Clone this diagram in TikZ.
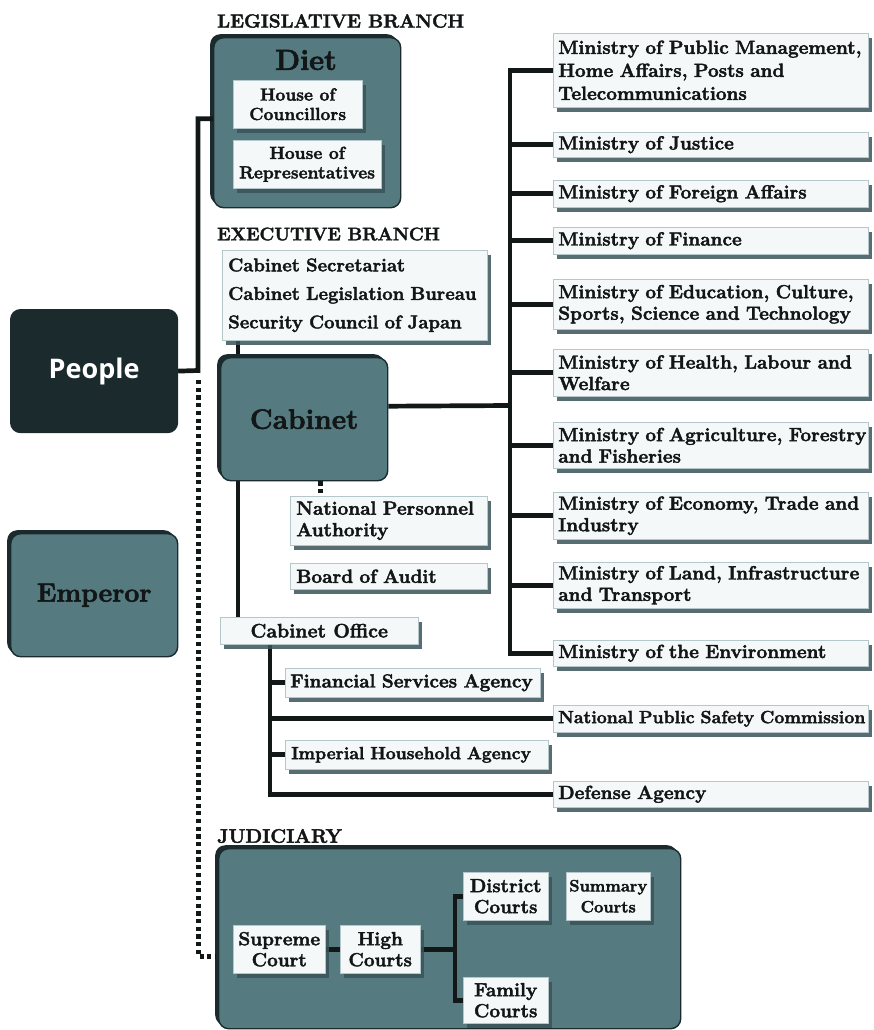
\documentclass[tikz,border=0pt]{standalone}
\usepackage{fontspec}
\setmainfont{Latin Modern Roman}[BoldFeatures={FakeBold=2.2}]
\newfontfamily\peoplefont{Open Sans}
\usetikzlibrary{shadows}

\definecolor{tealc}{HTML}{557B81}
\definecolor{tealdk}{HTML}{1B2A2D}
\definecolor{peoplec}{HTML}{1B2A2D}
\definecolor{boxfill}{HTML}{F4F8F9}
\definecolor{boxedge}{HTML}{B5C7CB}
\definecolor{shadowc}{HTML}{3B5458}
\definecolor{linec}{HTML}{121718}
\definecolor{inkc}{HTML}{121617}

\pgfdeclarelayer{frames}
\pgfdeclarelayer{links}
\pgfsetlayers{frames,links,main}

\begin{document}
\begin{tikzpicture}[x=1pt, y=-1pt,
  head/.style={font=\fontsize{19}{21}\selectfont\bfseries, text=inkc, anchor=west, inner sep=0pt},
  wbox/.style={draw=boxedge, line width=0.5pt, fill=boxfill, anchor=north west,
    inner xsep=6pt, inner ysep=1pt, text=inkc,
    font=\fontsize{19}{23}\selectfont\bfseries,
    drop shadow={shadow xshift=4pt, shadow yshift=-5pt, fill=shadowc, opacity=0.85}},
  lbox/.style={wbox, align=left},
  cbox/.style={wbox, align=center},
  mbox/.style={lbox, inner xsep=5pt, minimum width=315pt, text width=305pt},
  twoline/.style={font=\fontsize{19}{21.5}\selectfont\bfseries},
  court/.style={cbox, inner xsep=2pt, font=\fontsize{19}{21}\selectfont\bfseries},
  tbox/.style={fill=tealc, draw=tealdk, line width=1.4pt, rounded corners=10pt, anchor=north west,
    drop shadow={shadow xshift=-3.5pt, shadow yshift=3.5pt, fill=tealdk, opacity=1}},
  title/.style={font=\fontsize{28}{30}\selectfont\bfseries, text=inkc},
  conn/.style={draw=linec, line width=4.7pt},
  dotc/.style={draw=linec, line width=5pt, dash pattern=on 4.2pt off 3.5pt},
]
\useasboundingbox (0,0) rectangle (874,1030);

% ---------- big rounded frames ----------
\begin{pgfonlayer}{frames}
  \node[tbox, minimum width=187pt, minimum height=170pt] (diet) at (213,37) {};
  \node[tbox, minimum width=462pt, minimum height=180pt] (judi) at (218,848) {};
\end{pgfonlayer}

% ---------- legislative branch ----------
\node[head] (hleg) at (217,21) {LEGISLATIVE BRANCH};
\node[title, font=\fontsize{29}{30}\selectfont\bfseries] (dietname) at (306,60) {Diet};
\node[cbox, minimum width=129pt, minimum height=48pt, font=\fontsize{17.5}{19.5}\selectfont\bfseries] (hoc) at (233,80) {House of\\Councillors};
\node[cbox, minimum width=147pt, minimum height=48pt, font=\fontsize{17.5}{19.5}\selectfont\bfseries] (hor) at (233,140) {House of\\Representatives};

% ---------- people and emperor ----------
\node[fill=peoplec, draw=tealdk, line width=1.2pt, rounded corners=10pt, anchor=north west,
      minimum width=167pt, minimum height=123pt, text=white,
      font=\fontsize{27}{28}\selectfont\peoplefont\bfseries] (people) at (10,309) {People};
\node[tbox, title, font=\fontsize{26.5}{30}\selectfont\bfseries, minimum width=167pt, minimum height=123pt] (emperor) at (10,533) {Emperor};

% ---------- executive branch ----------
\node[head, font=\fontsize{18.2}{20}\selectfont\bfseries] (hexe) at (217,234) {EXECUTIVE BRANCH};
\node[lbox, minimum width=265pt, minimum height=90pt, text width=253pt,
      font=\fontsize{18.5}{28.5}\selectfont\bfseries] (exec) at (222,250)
  {Cabinet Secretariat\\Cabinet Legislation Bureau\\Security Council of Japan};
\node[tbox, title, minimum width=167pt, minimum height=123pt] (cabinet) at (220,357) {Cabinet};
\node[lbox, twoline, minimum width=197pt, minimum height=49pt, text width=185pt] (npa) at (290,496) {National Personnel\\Authority};
\node[lbox, minimum width=197pt, minimum height=26pt, text width=185pt] (audit) at (290,563) {Board of Audit};
\node[cbox, font=\fontsize{19.5}{23}\selectfont\bfseries, minimum width=198pt, minimum height=27pt] (coffice) at (220,617) {Cabinet Office};
\node[lbox, inner xsep=5pt, minimum width=255pt, minimum height=29pt, text width=245pt] (fsa) at (285,668) {\mbox{Financial Services Agency}};
\node[lbox, minimum width=263pt, minimum height=29pt, text width=251pt,
      font=\fontsize{17.6}{20}\selectfont\bfseries] (iha) at (285,740) {Imperial Household Agency};

% ---------- ministries ----------
\node[mbox, minimum height=74pt] (m1) at (553,33) {\mbox{Ministry of Public Management,}\\Home Affairs, Posts and\\Telecommunications};
\node[mbox, minimum height=25pt] (m2) at (553,132) {Ministry of Justice};
\node[mbox, minimum height=27pt] (m3) at (553,180) {Ministry of Foreign Affairs};
\node[mbox, minimum height=27pt] (m4) at (553,227) {Ministry of Finance};
\node[mbox, twoline, minimum height=50pt] (m5) at (553,279) {\mbox{Ministry of Education, Culture,}\\\mbox{Sports, Science and Technology}};
\node[mbox, twoline, minimum height=47pt] (m6) at (553,349) {Ministry of Health, Labour and\\Welfare};
\node[mbox, twoline, minimum height=46pt] (m7) at (553,422) {\mbox{Ministry of Agriculture, Forestry}\\and Fisheries};
\node[mbox, twoline, minimum height=47pt] (m8) at (553,492) {\mbox{Ministry of Economy, Trade and}\\Industry};
\node[mbox, twoline, minimum height=46pt] (m9) at (553,562) {\mbox{Ministry of Land, Infrastructure}\\and Transport};
\node[mbox, minimum height=26pt] (m10) at (553,640) {Ministry of the Environment};
\node[mbox, minimum height=27pt, font=\fontsize{17.7}{20}\selectfont\bfseries] (npsc) at (553,705) {\mbox{National Public Safety Commission}};
\node[mbox, minimum height=26pt] (defense) at (553,781) {Defense Agency};

% ---------- judiciary ----------
\node[head, font=\fontsize{19.5}{21}\selectfont\bfseries] (hjud) at (217,836) {JUDICIARY};
\node[court, minimum width=92pt, minimum height=48pt] (sup) at (233,925) {Supreme\\Court};
\node[court, minimum width=80pt, minimum height=48pt] (high) at (340,925) {High\\Courts};
\node[court, minimum width=85pt, minimum height=48pt] (dist) at (463,872) {District\\Courts};
\node[court, minimum width=84pt, minimum height=48pt, font=\fontsize{16.5}{21}\selectfont\bfseries] (summ) at (566,872) {Summary\\Courts};
\node[court, minimum width=85pt, minimum height=46pt] (fam) at (463,977) {Family\\Courts};

% ---------- junction points ----------
\coordinate (pj) at (198,370.5);
\coordinate (dotstart) at (198,380);
\coordinate (dotend) at (216,956);
\coordinate (cabx) at (238,0);
\coordinate (npx) at (320,0);
\coordinate (trunk) at (510,0);
\coordinate (cabj) at (510,405.5);
\coordinate (cox) at (270,0);
\coordinate (bk) at (455,0);

% ---------- connectors ----------
\begin{pgfonlayer}{links}
  \draw[conn] (people.east) -- (pj) |- ([yshift=4pt]diet.west);
  \draw[dotc] (dotstart) |- (dotend);

  \draw[conn] (exec.south -| cabx) -- (cabinet.north -| cabx);
  \draw[conn] (cabinet.south -| cabx) -- (coffice.north -| cabx);
  \draw[dotc] (cabinet.south -| npx) -- (npa.north -| npx);

  \draw[conn] ([yshift=13pt]cabinet.east) -- (cabj);
  \draw[conn] (m1.west) -| (trunk |- m10.west) -- (m10.west);
  \foreach \m in {m2,m3,m4,m5,m6,m7,m8,m9}
    \draw[conn] (\m.west) -- (trunk |- \m.west);

  \draw[conn] (coffice.south -| cox) |- (defense.west);
  \draw[conn] (fsa.west) -- (cox |- fsa.west);
  \draw[conn] (npsc.west) -- (cox |- npsc.west);
  \draw[conn] (iha.west) -- (cox |- iha.west);

  \draw[conn] (sup.east) -- (high.west);
  \draw[conn] (high.east) -- (bk |- high.east);
  \draw[conn] (dist.west) -| (bk |- fam.west) -- (fam.west);
\end{pgfonlayer}
\end{tikzpicture}
\end{document}
